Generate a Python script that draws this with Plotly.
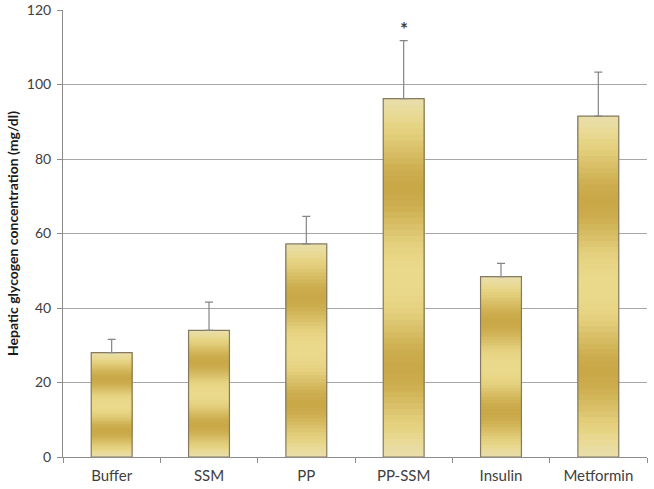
import numpy as np
import plotly.graph_objects as go

# data
groups = ["Buffer", "SSM", "PP", "PP-SSM", "Insulin", "Metformin"]
glycogen = [28.0, 34.0, 57.2, 96.2, 48.4, 91.5]
err_upper = [3.6, 7.6, 7.4, 15.6, 3.6, 11.8]
marks = ["", "", "", "*", "", ""]

# banded gold fill: bars split into thin slices, colour follows position in bar
n_slices = 60
pale = np.array([233, 222, 172])
light = np.array([234, 217, 138])
dark = np.array([201, 168, 72])


def slice_colour(frac):
    # light at 0, .5, 1 - dark around .25 and .75
    w = 0.5 - 0.5 * np.cos(frac * 4 * np.pi)
    w = w ** 1.4
    base = light
    if frac < 0.08 or frac > 0.92:
        edge = 1 - min(frac, 1 - frac) / 0.08
        base = light * (1 - edge) + pale * edge
    c = base * (1 - w) + dark * w
    return "rgb(%d,%d,%d)" % tuple(c.round())


vals = np.array(glycogen)
fig = go.Figure()

# each slice runs from its base up to the bar top, later slices paint over
# earlier ones, so no seams show between them
for k in range(n_slices):
    frac = (k + 0.5) / n_slices
    fig.add_trace(go.Bar(
        x=groups,
        y=vals * (n_slices - k) / n_slices,
        base=vals * k / n_slices,
        marker=dict(color=slice_colour(frac), line=dict(width=0)),
        showlegend=False,
        hoverinfo="skip",
    ))

# outline + error bars
fig.add_trace(go.Bar(
    x=groups,
    y=glycogen,
    marker=dict(color="rgba(0,0,0,0)", line=dict(color="#857a60", width=1.2)),
    error_y=dict(type="data", array=err_upper, arrayminus=[0] * len(groups),
                 symmetric=False, color="#858585", thickness=1.2, width=4),
    showlegend=False,
    name="Glycogen",
))

# significance star above PP-SSM
for g, v, e, m in zip(groups, glycogen, err_upper, marks):
    if m:
        fig.add_annotation(x=g, y=v + e, text="<b>" + m + "</b>", showarrow=False,
                           yshift=12, font=dict(size=19, color="#404040",
                                                family="Lato"))

fig.update_layout(
    barmode="overlay",
    bargap=0.58,
    width=654,
    height=489,
    margin=dict(l=63, r=7, t=10, b=32),
    plot_bgcolor="white",
    paper_bgcolor="white",
    font=dict(family="Lato, Liberation Sans, sans-serif", size=12, color="#404040"),
)

fig.update_xaxes(
    automargin=False,
    showline=True, linecolor="#8c8c8c", linewidth=1,
    ticks="outside", ticklen=5, tickcolor="#8c8c8c", tickson="boundaries",
    showgrid=False,
    ticklabelstandoff=5,
    tickfont=dict(size=15, color="#404040"),
)
fig.update_yaxes(
    automargin=False,
    range=[0, 120], dtick=20,
    showline=True, linecolor="#8c8c8c", linewidth=1,
    ticks="outside", ticklen=5, tickcolor="#8c8c8c",
    showgrid=True, gridcolor="#a6a6a6", gridwidth=1,
    zeroline=False,
    ticklabelstandoff=3,
    tickfont=dict(size=14, color="#404040"),
    title=dict(text="<b>Hepatic glycogen concentration (mg/dl)</b>",
               font=dict(size=14, color="#1a1a1a"), standoff=4),
)

# drop the default body margin so the figure sits at the page corner
fig.write_html("out.html", config={"displayModeBar": False},
               post_script="document.body.style.margin='0';")
